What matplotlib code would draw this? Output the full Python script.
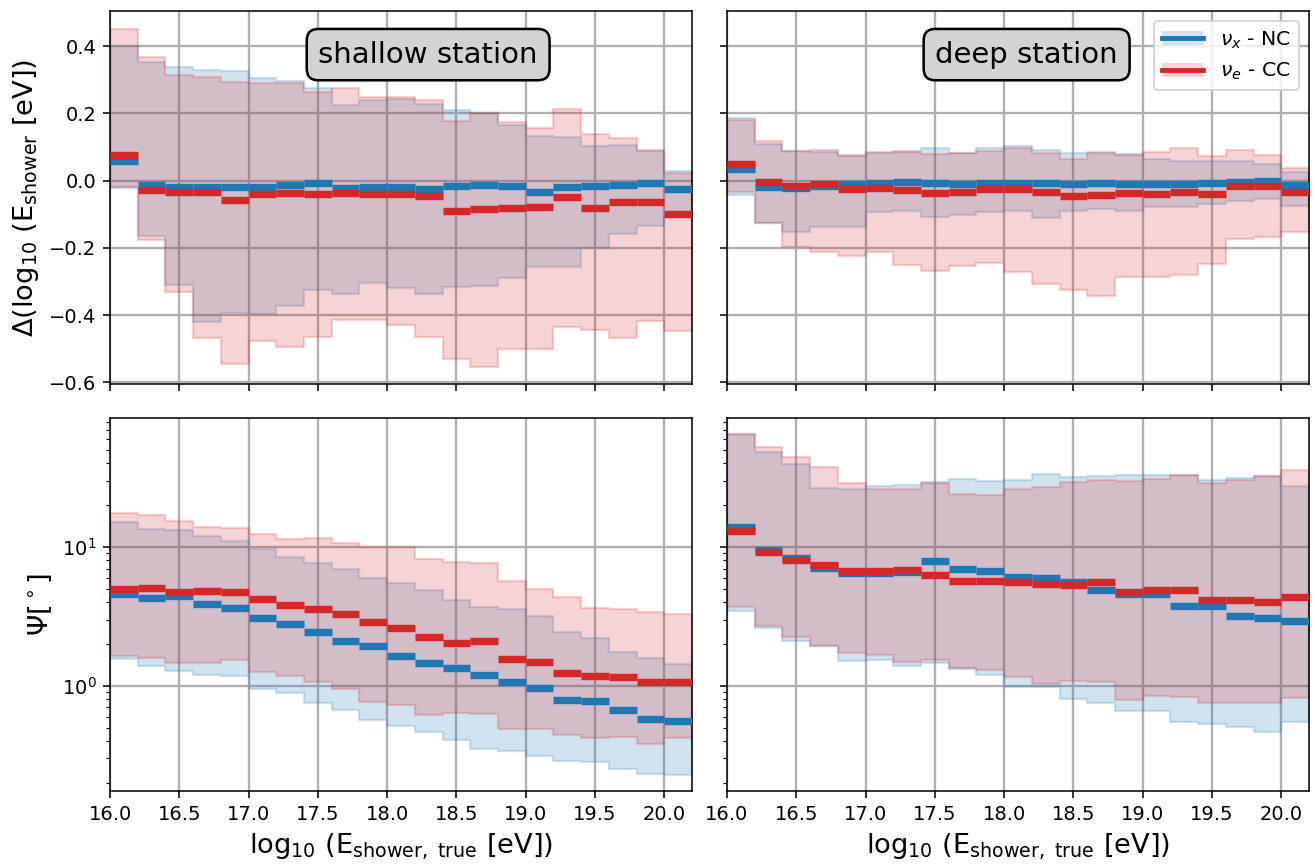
import numpy as np
import matplotlib
matplotlib.use("Agg")
import matplotlib.pyplot as plt
from matplotlib.lines import Line2D
from matplotlib.patches import Patch

# energy bins, log10(E / eV)
bin_edges = [16.0, 16.2, 16.4, 16.6, 16.8, 17.0, 17.2, 17.4, 17.6, 17.8, 18.0,
             18.2, 18.4, 18.6, 18.8, 19.0, 19.2, 19.4, 19.6, 19.8, 20.0, 20.2]

# shallow station, energy resolution: median and 68% band
shallow_de_nc_med = [0.060, -0.014, -0.018, -0.018, -0.018, -0.018, -0.014, -0.006, -0.023, -0.018, -0.018,
                     -0.026, -0.016, -0.012, -0.015, -0.033, -0.020, -0.016, -0.013, -0.006, -0.026]
shallow_de_nc_hi = [0.400, 0.353, 0.338, 0.328, 0.325, 0.307, 0.297, 0.277, 0.226, 0.239, 0.244,
                    0.227, 0.210, 0.200, 0.167, 0.132, 0.130, 0.104, 0.106, 0.088, 0.029]
shallow_de_nc_lo = [-0.023, -0.166, -0.309, -0.421, -0.393, -0.398, -0.372, -0.324, -0.337, -0.303, -0.319,
                    -0.336, -0.317, -0.312, -0.290, -0.257, -0.257, -0.201, -0.159, -0.136, -0.107]
shallow_de_cc_med = [0.075, -0.028, -0.035, -0.033, -0.058, -0.041, -0.037, -0.041, -0.036, -0.041, -0.041,
                     -0.047, -0.090, -0.083, -0.080, -0.078, -0.048, -0.082, -0.063, -0.063, -0.099]
shallow_de_cc_hi = [0.450, 0.368, 0.313, 0.308, 0.294, 0.291, 0.291, 0.264, 0.277, 0.249, 0.249,
                    0.239, 0.178, 0.200, 0.175, 0.157, 0.212, 0.138, 0.128, 0.091, 0.022]
shallow_de_cc_lo = [-0.018, -0.176, -0.332, -0.468, -0.544, -0.478, -0.496, -0.466, -0.415, -0.415, -0.428,
                    -0.466, -0.532, -0.554, -0.502, -0.502, -0.436, -0.443, -0.468, -0.418, -0.448]

# deep station, energy resolution
deep_de_nc_med = [0.035, -0.019, -0.021, -0.015, -0.011, -0.006, -0.004, -0.006, -0.009, -0.007, -0.006,
                  -0.007, -0.010, -0.006, -0.009, -0.009, -0.009, -0.007, -0.003, -0.001, -0.012]
deep_de_nc_hi = [0.188, 0.109, 0.088, 0.086, 0.074, 0.083, 0.087, 0.097, 0.083, 0.096, 0.103,
                 0.091, 0.081, 0.085, 0.078, 0.066, 0.059, 0.060, 0.059, 0.051, 0.027]
deep_de_nc_lo = [-0.043, -0.127, -0.153, -0.139, -0.139, -0.094, -0.089, -0.107, -0.102, -0.094, -0.089,
                 -0.110, -0.089, -0.084, -0.089, -0.079, -0.079, -0.069, -0.060, -0.055, -0.074]
deep_de_cc_med = [0.050, -0.003, -0.015, -0.011, -0.025, -0.021, -0.029, -0.037, -0.033, -0.025, -0.025,
                  -0.035, -0.046, -0.044, -0.037, -0.041, -0.035, -0.041, -0.017, -0.017, -0.033]
deep_de_cc_hi = [0.180, 0.118, 0.089, 0.091, 0.076, 0.084, 0.084, 0.079, 0.081, 0.089, 0.097,
                 0.081, 0.066, 0.081, 0.077, 0.084, 0.097, 0.074, 0.091, 0.076, 0.037]
deep_de_cc_lo = [-0.033, -0.127, -0.198, -0.211, -0.225, -0.213, -0.252, -0.270, -0.255, -0.245, -0.272,
                 -0.307, -0.324, -0.342, -0.288, -0.288, -0.282, -0.248, -0.173, -0.169, -0.153]

# shallow station, angular resolution (deg)
shallow_psi_nc_med = [4.62, 4.27, 4.42, 3.91, 3.61, 3.06, 2.77, 2.46, 2.10, 1.95, 1.64,
                      1.47, 1.34, 1.19, 1.075, 0.962, 0.792, 0.778, 0.666, 0.580, 0.555]
shallow_psi_nc_hi = [15.1, 13.4, 13.3, 12.1, 11.1, 9.68, 8.51, 7.66, 6.89, 6.03, 5.52,
                     4.88, 4.18, 3.70, 3.56, 3.16, 2.46, 2.20, 1.75, 1.60, 1.43]
shallow_psi_nc_lo = [1.56, 1.38, 1.29, 1.20, 1.17, 0.957, 0.885, 0.757, 0.670, 0.567, 0.513,
                     0.469, 0.411, 0.353, 0.338, 0.311, 0.288, 0.281, 0.250, 0.233, 0.229]
shallow_psi_cc_med = [4.99, 5.10, 4.75, 4.80, 4.77, 4.20, 3.82, 3.59, 3.27, 2.89, 2.60,
                      2.26, 2.05, 2.12, 1.56, 1.49, 1.24, 1.18, 1.16, 1.06, 1.07]
shallow_psi_cc_hi = [17.6, 17.1, 15.3, 14.0, 13.8, 12.4, 11.4, 11.6, 10.7, 10.0, 10.0,
                     8.14, 7.83, 7.70, 5.70, 4.96, 4.39, 3.66, 3.59, 3.42, 3.27]
shallow_psi_cc_lo = [1.65, 1.60, 1.46, 1.45, 1.53, 1.25, 1.17, 1.07, 0.946, 0.766, 0.728,
                     0.616, 0.641, 0.627, 0.488, 0.488, 0.446, 0.422, 0.430, 0.384, 0.418]

# deep station, angular resolution (deg)
deep_psi_nc_med = [13.9, 9.5, 8.37, 7.04, 6.55, 6.55, 6.62, 7.92, 7.00, 6.74, 6.10,
                   6.03, 5.61, 4.88, 4.56, 4.56, 3.78, 3.78, 3.18, 3.06, 2.93]
deep_psi_nc_hi = [65.5, 48.0, 39.3, 26.8, 26.0, 27.4, 28.1, 29.4, 30.8, 30.1, 30.2,
                  33.4, 32.0, 32.3, 32.9, 32.9, 32.9, 30.6, 31.6, 32.3, 27.5]
deep_psi_nc_lo = [3.46, 2.60, 2.11, 1.93, 1.50, 1.54, 1.40, 1.46, 1.32, 1.20, 0.989,
                  0.978, 0.805, 0.753, 0.663, 0.663, 0.545, 0.530, 0.502, 0.462, 0.545]
deep_psi_cc_med = [13.0, 9.25, 8.09, 7.45, 6.67, 6.67, 6.85, 6.27, 5.70, 5.70, 5.57,
                   5.46, 5.31, 5.57, 4.77, 4.91, 4.91, 4.15, 4.15, 4.00, 4.34]
deep_psi_cc_hi = [65.5, 52.7, 44.6, 37.8, 29.1, 26.3, 26.3, 29.1, 24.2, 23.5, 26.3,
                  26.9, 29.4, 30.6, 29.7, 31.1, 32.9, 28.9, 30.2, 32.3, 35.9]
deep_psi_cc_lo = [3.67, 2.68, 2.25, 1.93, 1.72, 1.68, 1.49, 1.54, 1.34, 1.31, 1.15,
                  1.04, 1.09, 1.06, 0.792, 0.851, 0.837, 0.757, 0.757, 0.749, 0.823]

labels = [r"$\nu_x$ - NC", r"$\nu_e$ - CC"]
colors = ["tab:blue", "tab:red"]


def draw_band(ax, edges, med, lo, hi, color):
    """Filled 68% band as a step histogram plus a bar for the median of each bin."""
    edges = np.asarray(edges)
    lo_ext = np.append(lo, lo[-1])
    hi_ext = np.append(hi, hi[-1])
    ax.fill_between(edges, lo_ext, hi_ext, step="post", color=color, alpha=0.2, linewidth=1.2)
    ax.hlines(med, edges[:-1], edges[1:], colors=color, linewidth=3.8, zorder=3)


fig, axs = plt.subplots(2, 2, figsize=(1315 / 140, 864 / 140), dpi=140, sharex=True, sharey="row")
fig.subplots_adjust(left=0.0837, right=0.9954, top=0.9873, bottom=0.0845, wspace=0.060, hspace=0.091)

panels = [
    (axs[0, 0], [(shallow_de_nc_med, shallow_de_nc_lo, shallow_de_nc_hi),
                 (shallow_de_cc_med, shallow_de_cc_lo, shallow_de_cc_hi)]),
    (axs[0, 1], [(deep_de_nc_med, deep_de_nc_lo, deep_de_nc_hi),
                 (deep_de_cc_med, deep_de_cc_lo, deep_de_cc_hi)]),
    (axs[1, 0], [(shallow_psi_nc_med, shallow_psi_nc_lo, shallow_psi_nc_hi),
                 (shallow_psi_cc_med, shallow_psi_cc_lo, shallow_psi_cc_hi)]),
    (axs[1, 1], [(deep_psi_nc_med, deep_psi_nc_lo, deep_psi_nc_hi),
                 (deep_psi_cc_med, deep_psi_cc_lo, deep_psi_cc_hi)]),
]

for ax, series in panels:
    for (med, lo, hi), c in zip(series, colors):
        draw_band(ax, bin_edges, med, lo, hi, c)
    ax.grid(True, linewidth=1.2)
    ax.set_axisbelow(True)

axs[1, 0].set_yscale("log")
axs[0, 0].set_xlim(bin_edges[0], bin_edges[-1])
axs[0, 0].set_ylim(-0.605, 0.505)
axs[1, 0].set_ylim(0.175, 85.0)

axs[0, 0].set_ylabel(r"$\Delta$(log$_{10}$ (E$_{\rm shower}$ [eV])", fontsize=14)
axs[1, 0].set_ylabel(r"$\Psi [^\circ]$", fontsize=14)
for ax in axs[1]:
    ax.set_xlabel(r"log$_{10}$ (E$_{\rm shower,\ true}$ [eV])", fontsize=14)

box = dict(boxstyle="round,pad=0.4", facecolor="lightgray", edgecolor="black", linewidth=1.3)
axs[0, 0].text(0.358, 0.883, "shallow station", transform=axs[0, 0].transAxes,
               fontsize=15, ha="left", va="center", bbox=box)
axs[0, 1].text(0.358, 0.883, "deep station", transform=axs[0, 1].transAxes,
               fontsize=15, ha="left", va="center", bbox=box)

handles = [(Patch(facecolor=c, alpha=0.2), Line2D([], [], color=c, linewidth=2.5)) for c in colors]
axs[0, 1].legend(handles, labels, loc="upper right", fontsize=10.5)

fig.savefig("out.png", dpi=140)
